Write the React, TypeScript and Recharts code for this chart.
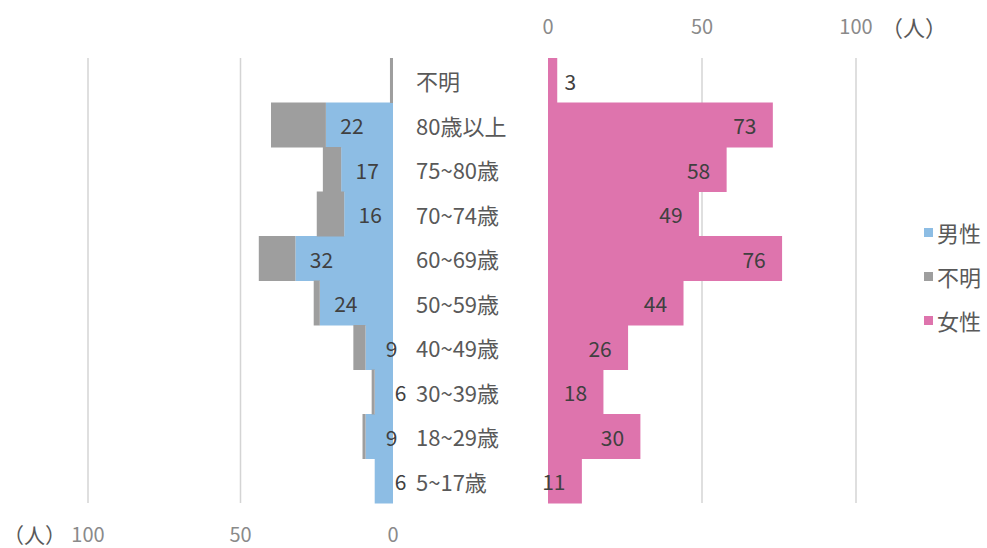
import { BarChart, Bar, XAxis, YAxis, CartesianGrid, LabelList } from "recharts";

const categories = ["不明", "80歳以上", "75~80歳", "70~74歳", "60~69歳", "50~59歳", "40~49歳", "30~39歳", "18~29歳", "5~17歳"];
const male = [0, 22, 17, 16, 32, 24, 9, 6, 9, 6];
const unknown = [1, 18, 6, 9, 12, 2, 4, 1, 1, 0];
const female = [3, 73, 58, 49, 76, 44, 26, 18, 30, 11];
const ticks = [0, 50, 100];

const data = categories.map((cat, i) => ({
  cat,
  male: male[i],
  unknown: unknown[i],
  female: female[i],
}));

const FONT = '"Noto Sans CJK JP", "Noto Sans", sans-serif';
const BLUE = "#8dbde4";
const GRAY = "#9e9e9e";
const PINK = "#de74ad";
const TEXT = "#595959";
const LABEL = "#404040";

const MaleLabel = (props: any) => {
  const { x, width, y, height, value } = props;
  if (!value) return null;
  const left = Math.min(x, x + width);
  return (
    <text x={left + 26} y={y + height / 2} textAnchor="middle" dominantBaseline="central" fill={LABEL} fontSize={21} fontFamily={FONT}>
      {value}
    </text>
  );
};

const FemaleLabel = (props: any) => {
  const { x, width, y, height, value } = props;
  const right = Math.max(x, x + width);
  const cx = value >= 10 ? right - 28 : right + 13;
  return (
    <text x={cx} y={y + height / 2} textAnchor="middle" dominantBaseline="central" fill={LABEL} fontSize={21} fontFamily={FONT}>
      {value}
    </text>
  );
};

const CatTick = (props: any) => {
  const { y, payload } = props;
  return (
    <text x={416} y={y} textAnchor="start" dominantBaseline="central" fill={TEXT} fontSize={22} fontFamily={FONT}>
      {payload.value}
    </text>
  );
};

const legend = [
  { name: "男性", color: BLUE },
  { name: "不明", color: GRAY },
  { name: "女性", color: PINK },
];

export default function App() {
  const tickStyle = { fill: "#8a8a8a", fontSize: 20, fontFamily: FONT };
  return (
    <div style={{ position: "absolute", left: 0, top: 0, width: 987, height: 548, background: "#fff", fontFamily: FONT, overflow: "hidden" }}>
      <div style={{ position: "absolute", left: 0, top: 0 }}>
        <BarChart width={987} height={548} data={data} layout="vertical" barCategoryGap={0}
          margin={{ top: 58, right: 594, bottom: 0, left: 88 }}>
          <CartesianGrid horizontal={false} verticalValues={[50, 100]} stroke="#d4d4d4" strokeWidth={1.5} />
          <XAxis type="number" orientation="bottom" height={45} domain={[0, 100]} ticks={ticks} reversed
            axisLine={false} tickLine={false} tickMargin={19} tick={tickStyle} />
          <YAxis type="category" dataKey="cat" hide />
          <Bar dataKey="male" stackId="a" fill={BLUE} isAnimationActive={false}>
            <LabelList dataKey="male" content={MaleLabel} />
          </Bar>
          <Bar dataKey="unknown" stackId="a" fill={GRAY} isAnimationActive={false} />
        </BarChart>
      </div>
      <div style={{ position: "absolute", left: 0, top: 0 }}>
        <BarChart width={987} height={548} data={data} layout="vertical" barCategoryGap={0}
          margin={{ top: 0, right: 131, bottom: 45, left: 410 }}>
          <CartesianGrid horizontal={false} verticalValues={[50, 100]} stroke="#d4d4d4" strokeWidth={1.5} />
          <XAxis type="number" orientation="top" height={58} domain={[0, 100]} ticks={ticks}
            axisLine={false} tickLine={false} tickMargin={18} tick={tickStyle} />
          <YAxis type="category" dataKey="cat" width={138} axisLine={false} tickLine={false} tick={CatTick} />
          <Bar dataKey="female" fill={PINK} isAnimationActive={false}>
            <LabelList dataKey="female" content={FemaleLabel} />
          </Bar>
        </BarChart>
      </div>
      <div style={{ position: "absolute", left: 881, top: 14, fontSize: 22, lineHeight: "24px", color: TEXT }}>（人）</div>
      <div style={{ position: "absolute", left: 3, top: 522, fontSize: 21, lineHeight: "24px", color: TEXT }}>（人）</div>
      <div style={{ position: "absolute", left: 924, top: 210 }}>
        {legend.map((l) => (
          <div key={l.name} style={{ display: "flex", alignItems: "center", height: 44, fontSize: 22, color: TEXT }}>
            <span style={{ display: "inline-block", width: 9, height: 9, background: l.color, marginRight: 4 }} />
            {l.name}
          </div>
        ))}
      </div>
    </div>
  );
}
